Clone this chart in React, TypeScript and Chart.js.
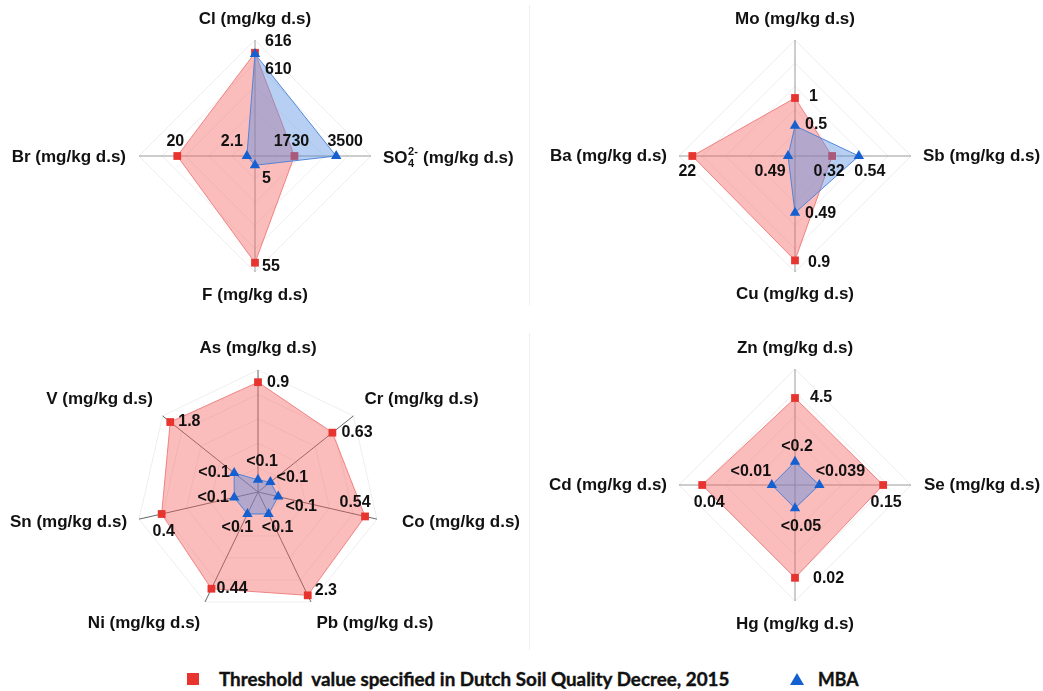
import React, { useEffect, useRef } from 'react';
import { Chart, registerables } from 'chart.js';
Chart.register(...registerables);

// ---------- Panel A ----------
const axesA = ['Cl (mg/kg d.s)', 'SO₄²⁻ (mg/kg d.s)', 'F (mg/kg d.s)', 'Br (mg/kg d.s)'];
const thresholdA = [0.89, 0.34, 0.92, 0.67];
const mbaA = [0.88, 0.70, 0.08, 0.07];
const thresholdLabelsA = ['616', '1730', '55', '20'];
const mbaLabelsA = ['610', '3500', '5', '2.1'];

// ---------- Panel B ----------
const axesB = ['Mo (mg/kg d.s)', 'Sb (mg/kg d.s)', 'Cu (mg/kg d.s)', 'Ba (mg/kg d.s)'];
const thresholdB = [0.5, 0.32, 0.9, 0.885];
const mbaB = [0.26, 0.55, 0.49, 0.06];
const thresholdLabelsB = ['1', '0.32', '0.9', '22'];
const mbaLabelsB = ['0.5', '0.54', '0.49', '0.49'];

// ---------- Panel C ----------
const axesC = ['As (mg/kg d.s)', 'Cr (mg/kg d.s)', 'Co (mg/kg d.s)', 'Pb (mg/kg d.s)', 'Ni (mg/kg d.s)', 'Sn (mg/kg d.s)', 'V (mg/kg d.s)'];
const thresholdC = [0.9, 0.78, 0.9, 0.94, 0.88, 0.81, 0.92];
const mbaC = [0.1, 0.13, 0.17, 0.2, 0.2, 0.2, 0.25];
const thresholdLabelsC = ['0.9', '0.63', '0.54', '2.3', '0.44', '0.4', '1.8'];
const mbaLabelsC = ['<0.1', '<0.1', '<0.1', '<0.1', '<0.1', '<0.1', '<0.1'];

// ---------- Panel D ----------
const axesD = ['Zn (mg/kg d.s)', 'Se (mg/kg d.s)', 'Hg (mg/kg d.s)', 'Cd (mg/kg d.s)'];
const thresholdD = [0.75, 0.76, 0.8, 0.8];
const mbaD = [0.2, 0.21, 0.2, 0.2];
const thresholdLabelsD = ['4.5', '0.15', '0.02', '0.04'];
const mbaLabelsD = ['<0.2', '<0.039', '<0.05', '<0.01'];

const seriesNames = ['Threshold  value specified in Dutch Soil Quality Decree, 2015', 'MBA'];

type Off = [number, number, CanvasTextAlign];

interface Panel {
  left: number; top: number; width: number; height: number;
  cx: number; cy: number; r: number;
  axes: string[]; thr: number[]; mba: number[];
  thrLabels: string[]; mbaLabels: string[];
  thrOff: Off[]; mbaOff: Off[]; titleOff: Off[];
  angleColor: string;
}

const panels: Panel[] = [
  {
    left: 0, top: 0, width: 521, height: 320, cx: 255, cy: 156, r: 116,
    axes: axesA, thr: thresholdA, mba: mbaA, thrLabels: thresholdLabelsA, mbaLabels: mbaLabelsA,
    thrOff: [[10, -11, 'left'], [-3, -14, 'center'], [7, 4, 'left'], [-2, -14, 'center']],
    mbaOff: [[10, 16, 'left'], [9, -14, 'center'], [7, 13, 'left'], [-15, -14, 'center']],
    titleOff: [[0, -21, 'center'], [12, 2, 'left'], [0, 23, 'center'], [-13, 1, 'right']],
    angleColor: '#9a9a9a',
  },
  {
    left: 521, top: 0, width: 522, height: 320, cx: 795, cy: 156, r: 116,
    axes: axesB, thr: thresholdB, mba: mbaB, thrLabels: thresholdLabelsB, mbaLabels: mbaLabelsB,
    thrOff: [[14, -1, 'left'], [-3, 16, 'center'], [13, 2, 'left'], [-5, 16, 'center']],
    mbaOff: [[10, -1, 'left'], [11, 16, 'center'], [10, 1, 'left'], [-18, 16, 'center']],
    titleOff: [[0, -21, 'center'], [12, 0, 'left'], [0, 22, 'center'], [-12, 0, 'right']],
    angleColor: '#9a9a9a',
  },
  {
    left: 0, top: 320, width: 521, height: 330, cx: 258, cy: 492, r: 122,
    axes: axesC, thr: thresholdC, mba: mbaC, thrLabels: thresholdLabelsC, mbaLabels: mbaLabelsC,
    thrOff: [[9, 0, 'left'], [9, 0, 'left'], [-10, -14, 'center'], [7, -5, 'left'], [5, 0, 'left'], [2, 18, 'center'], [8, 0, 'left']],
    mbaOff: [[4, -18, 'center'], [22, -5, 'center'], [23, 10, 'center'], [9, 14, 'center'], [-10, 14, 'center'], [-21, 0, 'center'], [-20, 0, 'center']],
    titleOff: [[0, -22, 'center'], [11, -17, 'left'], [25, 3, 'left'], [64, 21, 'center'], [-61, 21, 'center'], [-12, 3, 'right'], [-63, -17, 'center']],
    angleColor: '#666666',
  },
  {
    left: 521, top: 320, width: 522, height: 330, cx: 795, cy: 485, r: 116,
    axes: axesD, thr: thresholdD, mba: mbaD, thrLabels: thresholdLabelsD, mbaLabels: mbaLabelsD,
    thrOff: [[15, 0, 'left'], [3, 18, 'center'], [18, 1, 'left'], [7, 18, 'center']],
    mbaOff: [[2, -15, 'center'], [21, -13, 'center'], [6, 18, 'center'], [-21, -13, 'center']],
    titleOff: [[0, -21, 'center'], [13, 0, 'left'], [0, 23, 'center'], [-12, 0, 'right']],
    angleColor: '#9a9a9a',
  },
];

const FONT = '"Liberation Sans", Arial, Helvetica, sans-serif';
const RED = '#e8342f';
const BLUE = '#1560d0';

function drawTitle(ctx: CanvasRenderingContext2D, text: string, x: number, y: number, align: CanvasTextAlign) {
  const marker = '₄²⁻';
  const big = `bold 17px ${FONT}`;
  const small = `bold 11px ${FONT}`;
  if (!text.includes(marker)) {
    ctx.font = big;
    ctx.textAlign = align;
    ctx.fillText(text, x, y);
    return;
  }
  const [base, rest] = text.split(marker);
  ctx.font = big;
  const w1 = ctx.measureText(base).width;
  const w3 = ctx.measureText(rest).width;
  ctx.font = small;
  const ws = Math.max(ctx.measureText('4').width, ctx.measureText('2-').width) + 1;
  const total = w1 + ws + w3;
  let sx = x;
  if (align === 'center') sx = x - total / 2;
  else if (align === 'right') sx = x - total;
  ctx.textAlign = 'left';
  ctx.font = big;
  ctx.fillText(base, sx, y);
  ctx.font = small;
  ctx.fillText('2-', sx + w1 + 0.5, y - 6);
  ctx.fillText('4', sx + w1 + 0.5, y + 6);
  ctx.font = big;
  ctx.fillText(rest, sx + w1 + ws, y);
}

const labelPlugin = {
  id: 'panelLabels',
  afterDatasetsDraw(chart: any, _args: any, opts: any) {
    const p: Panel = opts.panel;
    if (!p) return;
    const ctx: CanvasRenderingContext2D = chart.ctx;
    const scale = chart.scales.r;
    ctx.save();
    ctx.fillStyle = '#111111';
    ctx.textBaseline = 'middle';
    p.axes.forEach((t, i) => {
      const pt = scale.getPointPosition(i, scale.drawingArea);
      const [dx, dy, al] = p.titleOff[i];
      drawTitle(ctx, t, pt.x + dx, pt.y + dy, al);
    });
    ctx.font = `bold 16px ${FONT}`;
    [0, 1].forEach((d) => {
      const meta = chart.getDatasetMeta(d);
      const labels = d === 0 ? p.thrLabels : p.mbaLabels;
      const offs = d === 0 ? p.thrOff : p.mbaOff;
      meta.data.forEach((el: any, i: number) => {
        const [dx, dy, al] = offs[i];
        ctx.textAlign = al;
        ctx.fillText(labels[i], el.x + dx, el.y + dy);
      });
    });
    ctx.restore();
  },
};

function RadarPanel({ panel }: { panel: Panel }) {
  const ref = useRef<HTMLCanvasElement>(null);
  useEffect(() => {
    if (!ref.current) return;
    const lx = panel.cx - panel.left;
    const ly = panel.cy - panel.top;
    const chart = new Chart(ref.current, {
      type: 'radar',
      data: {
        labels: panel.axes,
        datasets: [
          {
            label: seriesNames[0],
            data: panel.thr,
            fill: true,
            backgroundColor: 'rgba(245,95,95,0.42)',
            borderColor: 'rgba(240,120,120,0.9)',
            borderWidth: 1,
            pointStyle: 'rect',
            pointRadius: 5.5,
            pointHoverRadius: 5.5,
            pointBackgroundColor: RED,
            pointBorderColor: RED,
            pointBorderWidth: 0,
            order: 2,
          },
          {
            label: seriesNames[1],
            data: panel.mba,
            fill: true,
            backgroundColor: 'rgba(80,140,225,0.42)',
            borderColor: 'rgba(70,125,215,0.9)',
            borderWidth: 1,
            pointStyle: 'triangle',
            pointRadius: 6,
            pointHoverRadius: 6,
            pointBackgroundColor: BLUE,
            pointBorderColor: BLUE,
            pointBorderWidth: 0,
            order: 1,
          },
        ],
      },
      options: {
        responsive: false,
        animation: false,
        events: [],
        layout: {
          padding: {
            left: lx - panel.r,
            right: panel.width - (lx + panel.r),
            top: ly - panel.r,
            bottom: panel.height - (ly + panel.r),
          },
        },
        elements: { line: { tension: 0 } },
        plugins: {
          legend: { display: false },
          tooltip: { enabled: false },
          panelLabels: { panel },
        } as any,
        scales: {
          r: {
            min: 0,
            max: 1,
            ticks: { display: false, stepSize: 0.2 },
            pointLabels: { display: false },
            grid: { color: 'rgba(0,0,0,0.07)', lineWidth: 1 },
            angleLines: { color: panel.angleColor, lineWidth: 1 },
          },
        },
      },
      plugins: [labelPlugin],
    });
    return () => chart.destroy();
  }, [panel]);
  return (
    <canvas
      ref={ref}
      width={panel.width}
      height={panel.height}
      style={{ position: 'absolute', left: panel.left, top: panel.top, width: panel.width, height: panel.height, display: 'block' }}
    />
  );
}

export default function App() {
  const textRef = useRef<HTMLSpanElement>(null);
  const mbaRef = useRef<HTMLSpanElement>(null);
  useEffect(() => {
    const fit = (el: HTMLSpanElement | null, target: number) => {
      if (!el) return;
      const w = el.offsetWidth;
      if (w > 0) el.style.transform = `scaleX(${target / w})`;
    };
    fit(textRef.current, 510);
    fit(mbaRef.current, 40);
  }, []);
  const legendText: React.CSSProperties = {
    position: 'absolute',
    top: 669,
    height: 20,
    lineHeight: '20px',
    fontFamily: 'Lato, "Open Sans", sans-serif',
    fontWeight: 700,
    fontSize: 19,
    color: '#111',
    whiteSpace: 'pre',
    transformOrigin: 'left center',
    WebkitTextStroke: '0.4px #111',
  };
  return (
    <div style={{ position: 'absolute', left: 0, top: 0, width: 1043, height: 691, background: '#fff', overflow: 'hidden' }}>
      <div style={{ position: 'absolute', left: 529, top: 5, width: 1, height: 300, background: '#f0f0f0' }} />
      <div style={{ position: 'absolute', left: 529, top: 333, width: 1, height: 317, background: '#f0f0f0' }} />
      {panels.map((p, i) => (
        <RadarPanel key={i} panel={p} />
      ))}
      <div style={{ position: 'absolute', left: 187, top: 673, width: 12, height: 12, background: RED }} />
      <span ref={textRef} style={{ ...legendText, left: 219 }}>{seriesNames[0]}</span>
      <div
        style={{
          position: 'absolute', left: 790, top: 673, width: 0, height: 0,
          borderLeft: '7px solid transparent', borderRight: '7px solid transparent', borderBottom: '12px solid ' + BLUE,
        }}
      />
      <span ref={mbaRef} style={{ ...legendText, left: 818 }}>{seriesNames[1]}</span>
    </div>
  );
}
